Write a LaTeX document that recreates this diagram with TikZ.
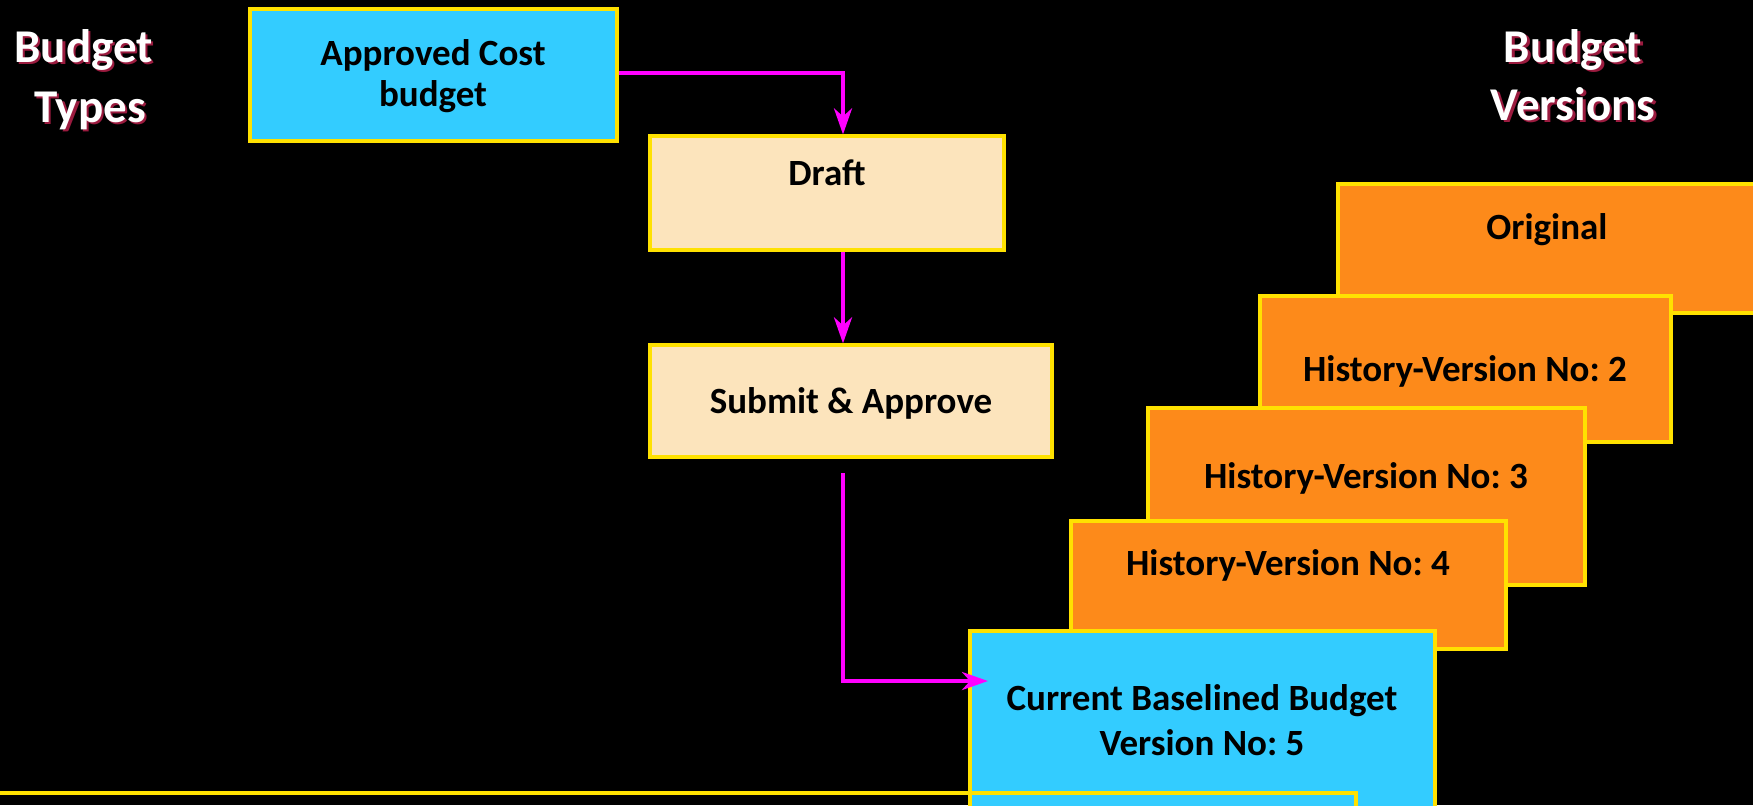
\documentclass[tikz,border=0pt]{standalone}
\usepackage{fontspec}
\setmainfont{Carlito}
\usetikzlibrary{arrows.meta,fit}
\frenchspacing

\definecolor{skyfill}{HTML}{33CCFF}
\definecolor{peachfill}{HTML}{FCE4BC}
\definecolor{orangefill}{HTML}{FD8A1A}
\definecolor{goldline}{HTML}{FFE100}
\definecolor{flowpink}{HTML}{FF00FF}
\definecolor{titleshade}{HTML}{9B1B3F}

\tikzset{
  x=0.5pt, y=-0.5pt,
  panel/.style={draw=goldline, line width=1.6pt, inner sep=0pt},
  bluepanel/.style={panel, fill=skyfill},
  peachpanel/.style={panel, fill=peachfill},
  orangepanel/.style={panel, fill=orangefill},
  boxtext/.style={anchor=base, inner sep=0pt, font=\fontsize{18.5}{21}\selectfont\bfseries, text=black},
  titletext/.style={anchor=base, inner sep=0pt, font=\fontsize{23.5}{28}\selectfont\bfseries, text=white},
  titleshadow/.style={anchor=base, inner sep=0pt, font=\fontsize{23.5}{28}\selectfont\bfseries, text=titleshade},
  flow/.style={draw=flowpink, line width=2pt, -{Stealth[length=13pt, width=9pt, inset=4pt]}}
}

\begin{document}
\begin{tikzpicture}
  % canvas
  \useasboundingbox (0,0) rectangle (1753,805);
  \fill[black] (0,0) rectangle (1753,805);
  \clip (0,0) rectangle (1753,805);

  % side headings with a dark red drop shadow
  \node[titleshadow] (tsh1) at (86,64.5) {Budget};
  \node[titletext]   (tt1)  at (83.5,62) {Budget};
  \node[titleshadow] (tsh2) at (92.5,124.5) {Types};
  \node[titletext]   (tt2)  at (90,122) {Types};
  \node[titleshadow] (vsh1) at (1575.5,64.5) {Budget};
  \node[titletext]   (vt1)  at (1573,62) {Budget};
  \node[titleshadow] (vsh2) at (1575.5,122.5) {Versions};
  \node[titletext]   (vt2)  at (1573,120) {Versions};

  % workflow column
  \node[bluepanel, fit={(250,9) (617,141)}] (acb) {};
  \node[boxtext] (acbt1) at (433,65) {Approved Cost};
  \node[boxtext] (acbt2) at (433,106) {budget};

  \node[peachpanel, fit={(650,136) (1004,250)}] (draft) {};
  \node[boxtext] (draftt) at (827,185) {Draft};

  \node[peachpanel, fit={(650,345) (1052,457)}] (submit) {};
  \node[boxtext] (submitt) at (851,413) {Submit \& Approve};

  % stacked version cards, oldest at the back
  \node[orangepanel, fit={(1338,184) (1765,313)}] (orig) {};
  \node[boxtext] (origt) at (1547,239) {Original};

  \node[orangepanel, fit={(1260,296) (1671,442)}] (hv2) {};
  \node[boxtext] (hv2t) at (1465,381) {History-Version No: 2};

  \node[orangepanel, fit={(1148,408) (1585,585)}] (hv3) {};
  \node[boxtext] (hv3t) at (1366,488) {History-Version No: 3};

  \node[orangepanel, fit={(1071,521) (1506,649)}] (hv4) {};
  \node[boxtext] (hv4t) at (1288,575) {History-Version No: 4};

  \node[bluepanel, fit={(970,631) (1435,840)}] (cur) {};
  \node[boxtext] (curt1) at (1202,710) {Current Baselined Budget};
  \node[boxtext] (curt2) at (1202,755) {Version No: 5};

  % outline of the panel below
  \draw[goldline, line width=2pt] (-10,793) -- (1356,793) -- (1356,830);

  % connectors
  \coordinate (bend1) at (843,73);
  \coordinate (drop) at (843,473);
  \coordinate (entry) at (988,681);
  \draw[flow] (acb.east |- bend1) -- (bend1) -- (bend1 |- draft.north);
  \draw[flow] (bend1 |- draft.south) -- (bend1 |- submit.north);
  \draw[flow] (drop) |- (entry);
\end{tikzpicture}
\end{document}
